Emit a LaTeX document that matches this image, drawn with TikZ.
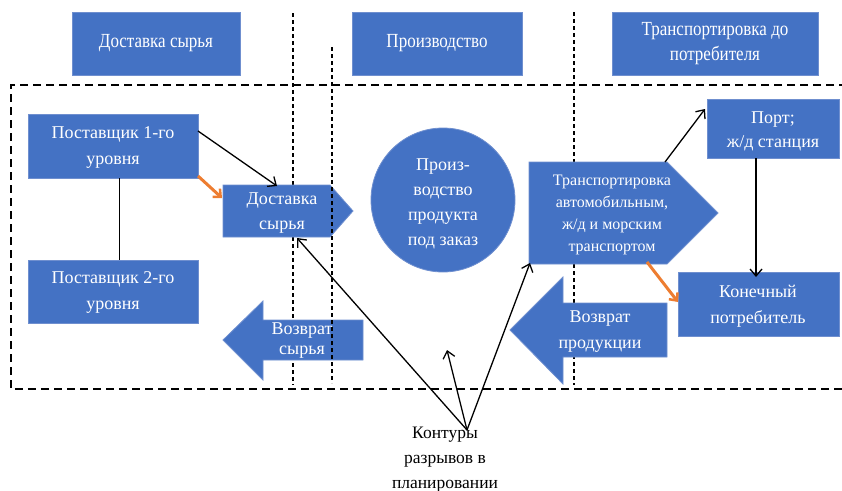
\documentclass[tikz,border=0pt]{standalone}
\usepackage{fontspec}
\setmainfont{Liberation Serif}
\newfontfamily\condfont[FakeStretch=0.85]{Liberation Serif}
\usetikzlibrary{arrows.meta}
\definecolor{boxblue}{HTML}{4472C4}
\definecolor{boxedge}{HTML}{6F8FCF}
\definecolor{orng}{HTML}{ED7D31}
\tikzset{
  blk/.style={fill=boxblue, draw=boxedge, line width=0.8pt},
  wtxt/.style={text=white, align=center, inner sep=0pt},
  toptxt/.style={wtxt, font=\condfont\fontsize{20}{25}\selectfont},
  midtxt/.style={wtxt, font=\fontsize{18}{25.5}\selectfont},
  conn/.style={draw=black, line width=1.3pt, -{Straight Barb[length=7pt,width=12pt,line width=1.3pt]}},
  orarrow/.style={draw=orng, line width=3pt, -{Straight Barb[length=6pt,width=11pt,line width=2.5pt]}},
  bigdash/.style={line width=2.6pt, dash pattern=on 8pt off 5pt},
  vdot/.style={line width=1.5pt, dash pattern=on 4pt off 3pt},
}
\begin{document}
\begin{tikzpicture}[x=1pt,y=-1pt]
\useasboundingbox (0,0) rectangle (842,490);
% vertical dotted separators (behind shapes)
\draw[vdot] (293,13) -- (293,385);
\draw[vdot] (574,12) -- (574,385);
% big dashed frame
\draw[bigdash] (860,85) -- (11,85) -- (11,389) -- (860,389);
% top headers
\node[blk, minimum width=168pt, minimum height=63pt] (t1) at (156,43.5) {};
\node[toptxt] at (t1) {Доставка сырья};
\node[blk, minimum width=170pt, minimum height=63pt] (t2) at (437,43.5) {};
\node[toptxt] at (t2) {Производство};
\node[blk, minimum width=206pt, minimum height=63pt] (t3) at (715,43.5) {};
\node[toptxt] at (t3) {Транспортировка до\\потребителя};
% suppliers
\node[blk, minimum width=170pt, minimum height=64pt] (p1) at (113,146) {};
\node[midtxt] at (113,147.5) {Поставщик 1-го\\уровня};
\node[blk, minimum width=170pt, minimum height=63pt] (p2) at (113,291.5) {};
\node[midtxt] at (113,292.5) {Поставщик 2-го\\уровня};
% delivery pentagon
\path[blk] (223,185) coordinate (d1) -- (330,185) -- (353,211) -- (330,237) -- (223,237) -- cycle;
\node[midtxt] (dtx) at (282,213) {Доставка\\сырья};
\coordinate (dtop) at (277,186);
\coordinate (dleft) at (222,198);
\coordinate (dbot) at (297,238);
% production circle
\node[blk, circle, minimum size=144pt] (circ) at (443,200) {};
\node[midtxt, font=\fontsize{18}{25}\selectfont] at (443,204) {Произ-\\водство\\продукта\\под заказ};
% transport pentagon
\path[blk] (529,162) -- (667,162) -- (718,213) -- (667,264) -- (529,264) -- cycle;
\node[wtxt, font=\fontsize{16}{22}\selectfont] (trtx) at (612,215) {Транспортировка\\автомобильным,\\ж/д и морским\\транспортом};
\coordinate (trtop) at (665,162);
\coordinate (trbl) at (530,263);
\coordinate (trbot) at (647,262);
% port
\node[blk, minimum width=132pt, minimum height=59pt] (port) at (773,128.5) {};
\node[midtxt, font=\fontsize{18}{24}\selectfont] at (773,131) {Порт;\\ж/д станция};
% final consumer
\node[blk, minimum width=161pt, minimum height=64pt] (cons) at (758.5,304) {};
\node[midtxt] at (758,306) {Конечный\\потребитель};
% return raw material arrow
\path[blk] (223,340) -- (263,301) -- (263,320) -- (363,320) -- (363,360) -- (263,360) -- (263,380) -- cycle;
\node[midtxt, font=\fontsize{18}{20}\selectfont] (rs) at (302,341) {Возврат\\сырья};
% return product arrow
\path[blk] (510,330) -- (563,277) -- (563,303) -- (667,303) -- (667,357) -- (563,357) -- (563,384) -- cycle;
\node[midtxt, font=\fontsize{18}{26}\selectfont] (rp) at (600,332) {Возврат\\продукции};
% dotted separator on top
\draw[vdot] (332,47) -- (332,383);
% connectors
\coordinate (p1a) at (198,131);
\coordinate (p1b) at (198,176);
\coordinate (p1c) at (119,178);
\draw[conn] (p1a) -- (dtop);
\draw[orarrow] (p1b) -- (dleft);
\draw[line width=0.8pt] (p1c) -- (p2.north -| p1c);
\coordinate (portin) at (705,109);
\coordinate (portout) at (756,158);
\coordinate (consin) at (756,277);
\coordinate (consleft) at (678,302);
\draw[conn] (trtop) -- (portin);
\draw[conn] (portout) -- (consin);
\draw[orarrow] (trbot) -- (consleft);
% gaps label
\node[align=center, inner sep=0pt, font=\fontsize{17.5}{25}\selectfont] (gap) at (445,460) {Контуры\\разрывов в\\планировании};
\coordinate (gp) at (467,430);
\coordinate (gmid) at (447,350);
\draw[conn] (gp) -- (dbot);
\draw[conn] (gp) -- (gmid);
\draw[conn] (gp) -- (trbl);
\end{tikzpicture}
\end{document}
